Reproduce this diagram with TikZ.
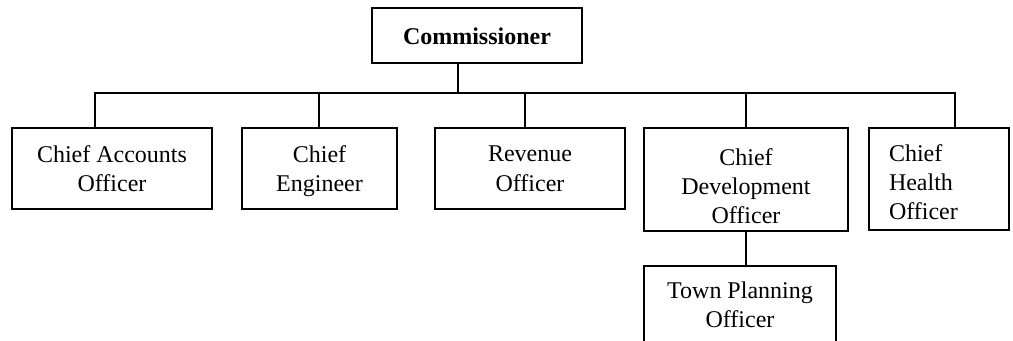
\documentclass[tikz,border=0pt]{standalone}
\usepackage{fontspec}
\setmainfont{Liberation Serif}
\tikzset{
  post/.style={draw, line width=0.9pt, align=center, inner sep=0pt,
    text depth=0pt, font=\fontsize{12}{14.6}\selectfont},
  link/.style={line width=0.9pt}
}
\begin{document}
\begin{tikzpicture}[x=0.5pt, y=-0.5pt]
            \useasboundingbox (0,0) rectangle (1013,341);
            \clip (0,0) rectangle (1013,341);

            % Commissioner on top
            \node[post, minimum width=105pt, minimum height=27.5pt,
                font=\fontsize{12}{14.6}\selectfont\bfseries]
                (comm) at (477,35.8) {Commissioner};

            % Officers in the row below
            \node[post, minimum width=100pt, minimum height=40.7pt]
                (acc) at (112,168.7) {Chief Accounts\\Officer};
            \node[post, minimum width=77.5pt, minimum height=40.7pt]
                (eng) at (319.5,168.7) {Chief\\Engineer};
            \node[post, minimum width=95pt, minimum height=40.7pt]
                (rev) at (530,168.7) {Revenue\\Officer};
            \node[post, minimum width=102pt, minimum height=51.5pt,
                text height=44pt]
                (dev) at (746,179.5) {Chief\\Development\\Officer};
            \node[post, minimum width=70pt, minimum height=51pt,
                align=left, text width=50pt, text depth=26.2pt]
                (health) at (939,179) {Chief\\Health\\Officer};

            % Town planning under development
            \node[post, minimum width=96pt, minimum height=39.3pt]
                (tp) at (740,305) {Town Planning\\Officer};

            % Bus and drops
            \coordinate (bus) at (458,92.7);
            \coordinate (d1) at (95,92.7);
            \coordinate (d2) at (319,92.7);
            \coordinate (d3) at (525,92.7);
            \coordinate (d4) at (746,92.7);
            \coordinate (d5) at (955,92.7);
            \draw[link] (comm.south -| bus) -- (bus);
            \draw[link] (d1 |- acc.north) -- (d1) -- (d5) -- (d5 |- health.north);
            \foreach \d/\n in {d2/eng, d3/rev, d4/dev}
                \draw[link] (\d) -- (\d |- \n.north);
            \draw[link] (dev.south) -- (dev.south |- tp.north);
\end{tikzpicture}
\end{document}
